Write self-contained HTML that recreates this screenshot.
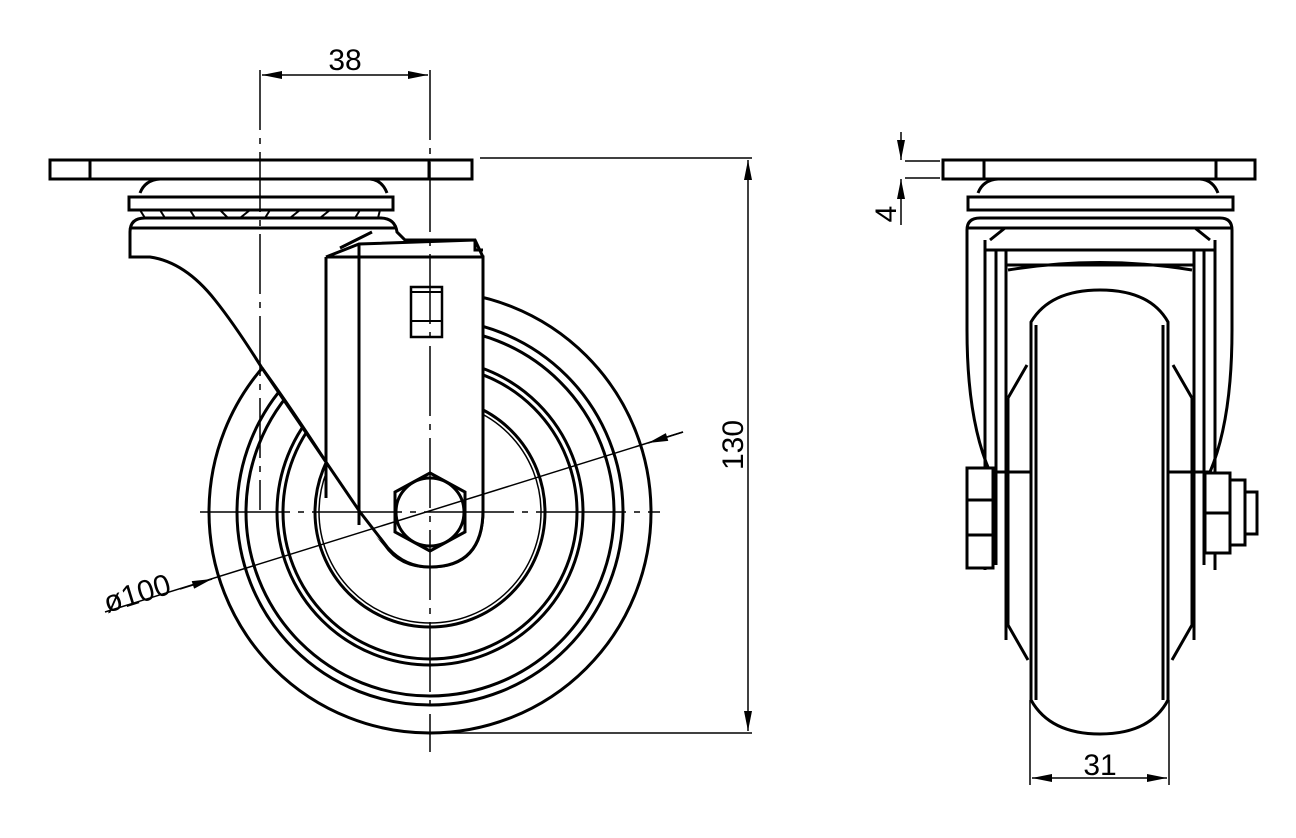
<!DOCTYPE html>
<html><head><style>html,body{margin:0;padding:0;background:#fff}svg{display:block}</style></head>
<body>
<svg width="1296" height="838" viewBox="0 0 1296 838" xmlns="http://www.w3.org/2000/svg">
<defs>
<marker id="a" viewBox="0 0 10 4" refX="10" refY="2" markerWidth="24" markerHeight="8" markerUnits="userSpaceOnUse" orient="auto-start-reverse"><path d="M0,0L10,2L0,4z" fill="#000"/></marker>
</defs>
<g fill="none" stroke="#000" stroke-width="3">
<circle cx="430" cy="512" r="221"/>
<circle cx="430" cy="512" r="193"/>
<circle cx="430" cy="512" r="184"/>
<circle cx="430" cy="512" r="153"/>
<circle cx="430" cy="512" r="147"/>
<circle cx="430" cy="512" r="115"/>
<circle cx="430" cy="512" r="111" stroke-width="1.5"/>
<path fill="#fff" d="M130,257 L130,232 Q130,218 145,218 L380,218 Q395,218 397,232 L405,240 L475,240 L483,257 L483,510 Q483,567 430,567 Q400,567 385,545 L360,515 Q300,420 262,368 Q235,325 215,300 Q185,262 150,257 Z"/>
<path fill="#fff" stroke="none" d="M326,257 L483,257 L483,510 Q483,567 430,567 Q400,567 385,545 L326,490 Z"/>
<path d="M326,257 L326,498 M359,244 L359,525 M326,257 L359,244 L475,240 M326,257 L483,257 L483,510 Q483,567 430,567 Q405,567 388,548 L360,512 M130,228 L395,228 M475,240 L475,250 L483,250 M340,248 L372,232" />
<path d="M262,368 L360,512"/>
<rect x="411" y="287" width="31" height="50" stroke-width="2.5"/>
<path d="M411,292 L442,292 M411,321 L442,321" stroke-width="2"/>
<polygon points="430,473 465,492 465,532 430,551 395,532 395,492"/>
<circle cx="430" cy="512" r="34"/>
<path fill="#fff" d="M140,193 Q145,180 160,179 L370,179 Q382,180 387,193"/>
<rect x="129" y="197" width="264" height="13" fill="#fff"/>
<path d="M140,210 L145,218 M160,210 L165,218 M190,210 L195,218 M220,210 L228,218 M250,210 L240,218 M270,210 L265,218 M300,210 L290,218 M330,210 L320,218 M360,210 L355,218 M380,210 L378,218" stroke-width="2"/>
<rect x="50" y="160" width="422" height="19" fill="#fff"/>
<path d="M90,160 L90,179 M429,160 L429,179"/>
<!-- RIGHT VIEW -->
<path fill="#fff" d="M967,230 Q967,218 980,218 L1220,218 Q1232,218 1232,230 L1232,330 Q1232,420 1210,472 L990,472 Q967,420 967,330 Z"/>
<path d="M967,228 L1232,228 M985,240 L985,570 M996,250 L996,565 M1006,250 L1006,640 M1215,240 L1215,570 M1204,250 L1204,565 M1194,250 L1194,640 M985,250 L1215,250 M1006,265 L1194,265 M1008,270 Q1100,255 1192,270 M990,240 L1005,228 M1210,240 L1195,228"/>
<path d="M1008,398 L1008,625 L1028,660 M1192,398 L1192,625 L1172,660 M1008,398 L1027,365 M1192,398 L1173,365"/>
<path fill="#fff" d="M1031,322 Q1050,290 1100,290 Q1150,290 1168,322 L1168,700 Q1150,734 1100,734 Q1050,734 1031,700 Z"/>
<path d="M1036,325 L1036,700 M1163,325 L1163,700"/>
<rect x="967" y="468" width="26" height="100" fill="#fff"/>
<path d="M967,500 L993,500 M967,535 L993,535"/>
<rect x="1205" y="473" width="25" height="80" fill="#fff"/>
<path d="M1205,513 L1230,513"/>
<rect x="1230" y="480" width="15" height="65" fill="#fff"/>
<rect x="1245" y="492" width="12" height="42" fill="#fff"/>
<path fill="#fff" d="M978,193 Q983,180 998,179 L1200,179 Q1213,180 1218,193"/>
<rect x="968" y="197" width="265" height="13" fill="#fff"/>
<rect x="943" y="160" width="312" height="19" fill="#fff"/>
<path d="M984,160 L984,179 M1216,160 L1216,179"/>
</g>
<g fill="none" stroke="#000" stroke-width="1.5">
<path d="M260,70 L260,510" stroke-dasharray="60,8,6,8"/>
<path d="M430,70 L430,752" stroke-dasharray="70,8,6,8"/>
<path d="M200,512 L660,512" stroke-dasharray="90,8,6,8"/>
<path d="M262,75 L428,75" marker-start="url(#a)" marker-end="url(#a)"/>
<path d="M480,158 L752,158 M432,733 L752,733"/>
<path d="M748,160 L748,731" marker-start="url(#a)" marker-end="url(#a)"/>
<path d="M105,612 L683,432"/>
<path d="M180,589 L212,579" marker-end="url(#a)"/>
<path d="M683,432 L648,443" marker-end="url(#a)"/>
<path d="M905,161 L940,161 M905,178 L940,178"/>
<path d="M901,132 L901,160" marker-end="url(#a)"/>
<path d="M901,225 L901,179" marker-end="url(#a)"/>
<path d="M1030,700 L1030,785 M1169,700 L1169,785"/>
<path d="M1032,778 L1167,778" marker-start="url(#a)" marker-end="url(#a)"/>
</g>
<g font-family="Liberation Sans, sans-serif" font-size="30" fill="#000">
<text x="345" y="70" text-anchor="middle">38</text>
<text x="1100" y="775" text-anchor="middle">31</text>
<text transform="translate(743,445) rotate(-90)" text-anchor="middle">130</text>
<text transform="translate(896,214) rotate(-90)" text-anchor="middle">4</text>
<text transform="translate(140,603) rotate(-17)" text-anchor="middle">ø100</text>
</g>
</svg>
</body></html>
